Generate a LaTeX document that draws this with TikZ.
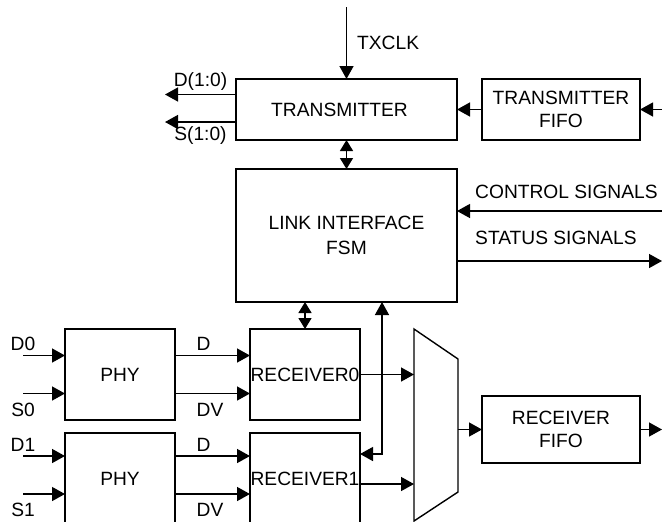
\documentclass[tikz,border=0pt]{standalone}
\usepackage{fontspec}
\setmainfont{Liberation Sans}
\usetikzlibrary{positioning, arrows.meta}

\begin{document}
\begin{tikzpicture}[
    x=0.5pt, y=-0.5pt,
    font=\fontsize{9.6pt}{11.2pt}\selectfont,
    line width=0.7pt,
    % Define styles for blocks and signals
    block/.style={rectangle, draw=black, inner sep=0pt, outer sep=0pt, align=center},
    muxbox/.style={rectangle, minimum width=22pt, minimum height=96pt, inner sep=0pt, outer sep=0pt},
    sig/.style={inner sep=0pt, text height=6.9pt, text depth=0pt},
    arrow/.style={-{Triangle[length=6.5pt, width=7pt]}},
    twoway/.style={{Triangle[length=6.5pt, width=7pt]}-{Triangle[length=6.5pt, width=7pt]}},
    biarrow/.style={{Triangle[length=5.5pt, width=6.5pt]}-{Triangle[length=5.5pt, width=6.5pt]}}
]
\useasboundingbox (0,0) rectangle (662,521);
\clip (0,0) rectangle (662,521);

% --- Nodes ---

% Transmit side
\node[block, minimum width=110.5pt, minimum height=30.5pt] (tx) at (346.5,109.5) {TRANSMITTER\hspace*{7pt}};
\node[block, minimum width=79pt, minimum height=30.5pt, right=12.5pt of tx] (txfifo) {TRANSMITTER\\FIFO};

% Control
\node[block, minimum width=110.5pt, minimum height=66.5pt, below=14.5pt of tx] (fsm) {LINK INTERFACE\\[1.5pt]FSM};

% Receive side
\node[block, minimum width=55pt, minimum height=45.5pt] (phy0) at (120,374.5) {PHY};
\node[block, minimum width=55pt, minimum height=45.5pt, right=37.5pt of phy0] (rx0) {RECEIVER0};
\node[block, minimum width=55pt, minimum height=45.5pt, below=6.5pt of phy0] (phy1) {PHY};
\node[block, minimum width=55pt, minimum height=45.5pt, right=37.5pt of phy1] (rx1) {RECEIVER1};
\node[muxbox, right=27pt of rx0.north east, anchor=north west] (mux) {};
\node[block, minimum width=79pt, minimum height=33.5pt, right=12pt of mux, yshift=-2.25pt] (rxfifo) {RECEIVER\\FIFO};

% Mux outline
\draw (mux.north west) -- ([yshift=-15pt]mux.north east) -- ([yshift=14.5pt]mux.south east) -- (mux.south west) -- cycle;

% --- Free ends ---
\coordinate[above=36pt of tx.north] (clkin);
\coordinate (dout) at ([xshift=-35.5pt, yshift=7.5pt]tx.west);
\coordinate (sout) at ([xshift=-35.5pt, yshift=-6.25pt]tx.west);
\coordinate[right=20pt of txfifo.east] (fifoin);
\coordinate (ctrlin) at ([xshift=110pt, yshift=12.25pt]fsm.east);
\coordinate (statout) at ([xshift=102.5pt, yshift=-12.75pt]fsm.east);
\coordinate[right=11pt of rxfifo.east] (rxout);
\coordinate (d0in) at ([xshift=-21pt, yshift=9.5pt]phy0.west);
\coordinate (s0in) at ([xshift=-21pt, yshift=-9.5pt]phy0.west);
\coordinate (d1in) at ([xshift=-21pt, yshift=11.25pt]phy1.west);
\coordinate (s1in) at ([xshift=-21pt, yshift=-7.75pt]phy1.west);
\coordinate (fbturn) at ([xshift=11pt, yshift=12.25pt]rx1.east);

% --- Routing Arrows ---

% Transmitter
\draw[arrow] (clkin) -- (tx.north) node[midway, sig, right=5pt] {TXCLK};
\draw[arrow] (dout -| tx.west) -- (dout) node[midway, sig, above=3.55pt] {D(1:0)};
\draw[arrow] (sout -| tx.west) -- (sout) node[midway, sig, below=2.05pt] {S(1:0)};
\draw[arrow] (txfifo) -- (tx);
\draw[arrow] (fifoin) -- (txfifo);
\draw[biarrow] (tx) -- (fsm);

% Control and status
\draw[arrow] (ctrlin) -- (ctrlin -| fsm.east) node[pos=1, sig, anchor=south west, xshift=8.75pt, yshift=6.05pt] {CONTROL SIGNALS};
\draw[arrow] (statout -| fsm.east) -- (statout) node[pos=0, sig, anchor=south west, xshift=8.75pt, yshift=8.05pt] {STATUS SIGNALS};

% PHY inputs
\draw[arrow] (d0in) -- (d0in -| phy0.west) node[pos=0, sig, above=2.05pt] {D0};
\draw[arrow] (s0in) -- (s0in -| phy0.west) node[pos=0, sig, below=4.05pt] {S0};
\draw[arrow] (d1in) -- (d1in -| phy1.west) node[pos=0, sig, above=2.05pt] {D1};
\draw[arrow] (s1in) -- (s1in -| phy1.west) node[pos=0, sig, below=4.05pt] {S1};

% PHY to receivers
\draw[arrow] (d0in -| phy0.east) -- (d0in -| rx0.west) node[pos=0, sig, anchor=south west, xshift=10.5pt, yshift=2.05pt] {D};
\draw[arrow] (s0in -| phy0.east) -- (s0in -| rx0.west) node[pos=0, sig, anchor=north west, xshift=10.5pt, yshift=-4.05pt] {DV};
\draw[arrow] (d1in -| phy1.east) -- (d1in -| rx1.west) node[pos=0, sig, anchor=south west, xshift=10.5pt, yshift=2.05pt] {D};
\draw[arrow] (s1in -| phy1.east) -- (s1in -| rx1.west) node[pos=0, sig, anchor=north west, xshift=10.5pt, yshift=-4.05pt] {DV};

% Receivers to FSM and mux
\draw[biarrow] (fsm.south -| rx0.north) -- (rx0.north);
\draw[twoway] (fsm.south -| fbturn) -- (fbturn) -- (fbturn -| rx1.east);
\draw[arrow] (rx0.east) -- (rx0.east -| mux.west);
\draw[arrow] ([yshift=-2.75pt]rx1.east) -- ([yshift=-2.75pt]rx1.east -| mux.west);
\draw[arrow] (rxfifo.west -| mux.east) -- (rxfifo.west);
\draw[arrow] (rxfifo) -- (rxout);

\end{tikzpicture}
\end{document}
